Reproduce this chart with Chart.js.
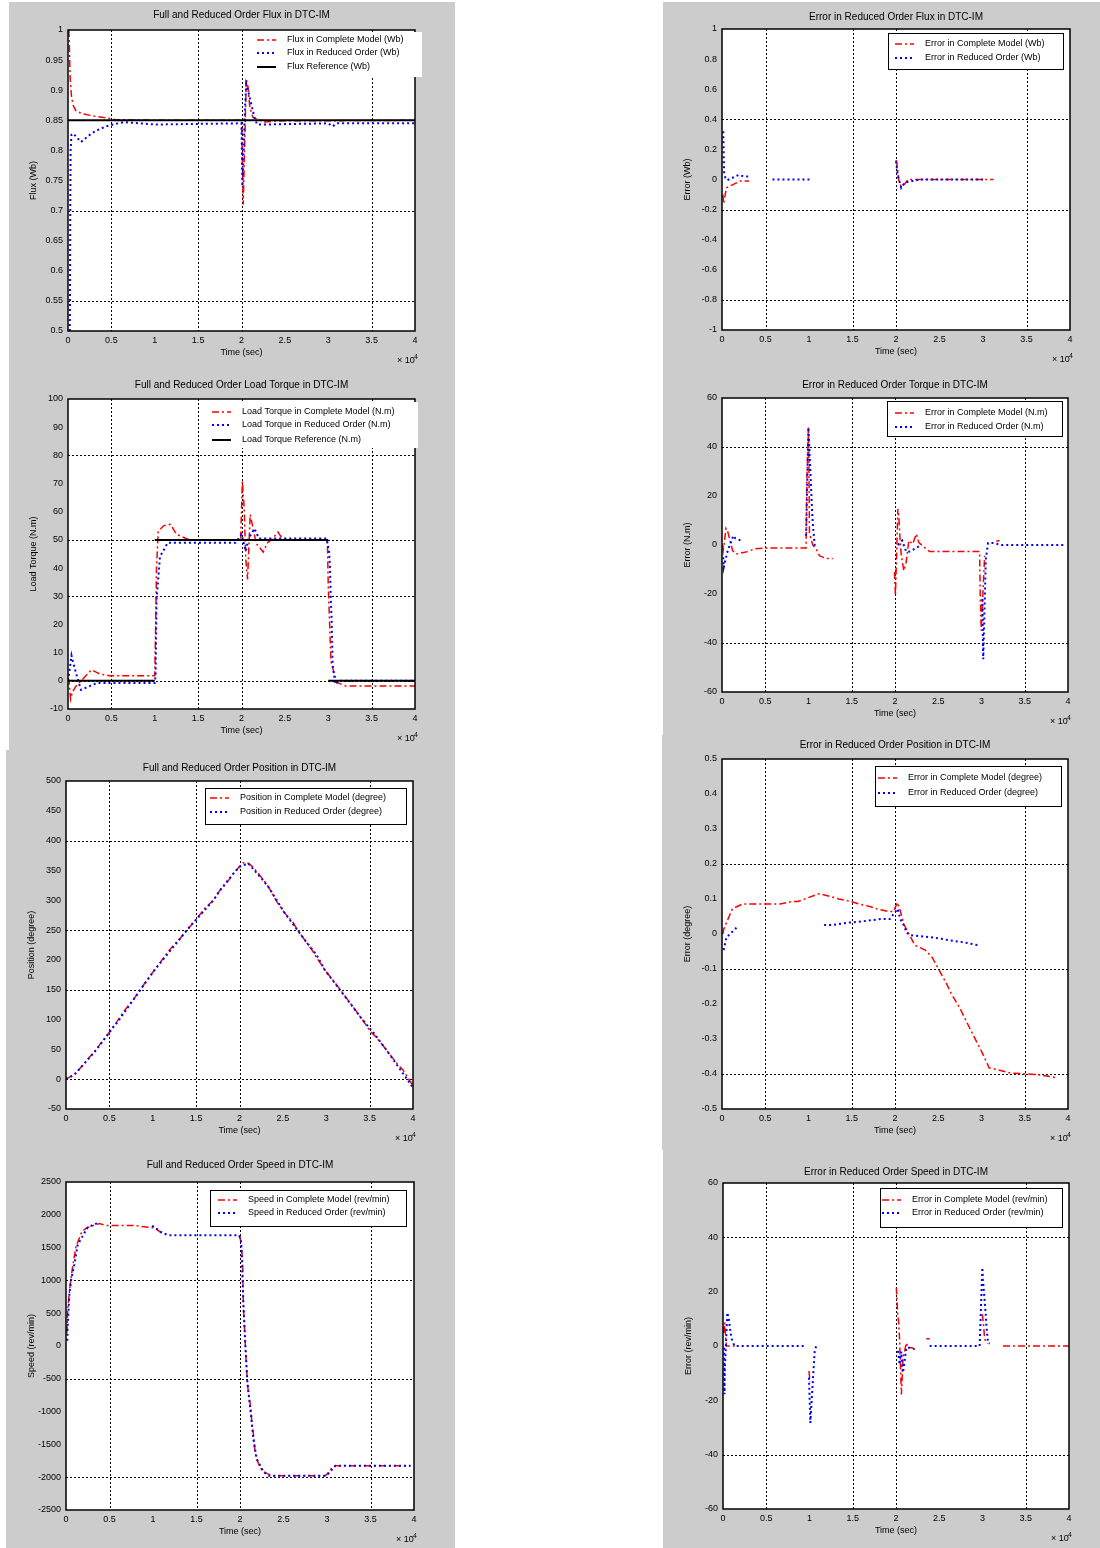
<!DOCTYPE html>
<html lang="en">
<head>
<meta charset="UTF-8">
<title>Full and Reduced Order Model Comparison</title>
<script src="https://cdn.jsdelivr.net/npm/chart.js"></script>
<style>
    body { margin: 0; background: #fff; width: 1100px; height: 1548px; position: relative; overflow: hidden; }
    .panel { position: absolute; background: #cccccc; }
    .panel canvas { display: block; }
</style>
</head>
<body>
<script>
// ---- data (time in samples, axis shown as x 10^4) ----
const gridX = [5000, 15000, 20000, 35000];

// flux
const fluxFullT = [100, 150, 250, 400, 600, 900, 1600, 3000, 4500, 5500, 10000, 20000, 20100, 20200, 20350, 20550, 20750, 20950, 21300, 22700, 24000, 40000];
const fluxFull = [1.0, 0.98, 0.92, 0.89, 0.875, 0.866, 0.861, 0.857, 0.854, 0.851, 0.85, 0.85, 0.78, 0.71, 0.8, 0.919, 0.905, 0.873, 0.855, 0.847, 0.849, 0.85];
const fluxRedT = [200, 230, 260, 300, 400, 600, 1500, 2700, 3300, 4400, 5200, 6400, 10000, 20000, 20100, 20250, 20400, 20550, 20800, 21500, 21800, 22700, 30000, 30500, 31000, 40000];
const fluxRed = [0.5, 0.545, 0.7, 0.8, 0.826, 0.828, 0.814, 0.828, 0.833, 0.84, 0.843, 0.847, 0.843, 0.845, 0.74, 0.8, 0.87, 0.91, 0.897, 0.854, 0.843, 0.843, 0.845, 0.84, 0.845, 0.845];
const fluxRefT = [0, 40000];
const fluxRef = [0.85, 0.85];

// flux error
const fluxErrFullT = [100, 200, 500, 2100, 3100, 10000, 20000, 20100, 20300, 20600, 21000, 21400, 31200];
const fluxErrFull = [-0.1, -0.16, -0.055, -0.01, -0.01, null, 0.13, 0.11, 0.0, -0.05, -0.03, 0, 0];
const fluxErrRedT = [150, 200, 250, 400, 600, 1900, 2600, 3100, 4000, 5800, 10200, 15000, 20000, 20200, 20600, 21000, 22700, 30000];
const fluxErrRed = [0.32, 0.15, 0.04, 0.01, -0.005, 0.03, 0.02, 0.02, null, 0, 0, null, 0.12, 0.03, -0.055, -0.02, 0, 0];

// load torque
const torqueFullT = [0, 100, 300, 500, 900, 2700, 3300, 3700, 4800, 10000, 10100, 10200, 10400, 11000, 11800, 12500, 14000, 19900, 20100, 20300, 20500, 20700, 21000, 21300, 21700, 22500, 23000, 23500, 24200, 24600, 25500, 29900, 30000, 30200, 30300, 30600, 31000, 32000, 40000];
const torqueFull = [1, 0.5, -6.5, -4, -2, 3.9, 3, 2.4, 1.8, 1.8, 18, 40, 53, 55, 55.5, 52, 50, 50, 70.7, 61.8, 43, 36, 59, 54.6, 48.7, 45.7, 49, 50.2, 52.8, 51, 50, 50, 33.8, 16.6, 7.1, 3.6, -0.6, -1.8, -1.8];
const torqueRedT = [100, 400, 600, 900, 1500, 3300, 10000, 10100, 10200, 10500, 10600, 11500, 19300, 20000, 20500, 20800, 21500, 22000, 24500, 29800, 30100, 30200, 30300, 30400, 30500, 30800, 31200, 40000];
const torqueRed = [1.8, 9, 6.5, 3, -3.2, -0.8, -0.8, 2, 28.5, 40, 44, 49, 49, 52, 46, 50.5, 54, 50.5, 50.5, 50.5, 45.7, 40.4, 28.5, 20.8, 5.9, -1.2, 0, 0];
const torqueRefT = [0, 10000, 10000, 10000, 30000, 30000, 30000, 40000];
const torqueRef = [0, 0, null, 50, 50, null, 0, 0];

// torque error
const tqErrFullT = [100, 150, 270, 460, 660, 930, 1230, 1620, 2970, 3740, 5280, 9720, 9800, 9990, 10050, 10110, 10490, 10880, 11260, 12030, 12810, 16000, 19940, 20050, 20330, 20450, 20600, 20720, 21020, 21290, 21600, 22060, 22450, 22760, 23990, 29780, 29850, 29970, 30100, 30360, 31000, 31700, 32100];
const tqErrFull = [0, -2, 1, 6.8, 5.5, 1.8, -2.3, -3.7, -2.7, -1.6, -1.2, -1.2, 25, 48, 32, 5, 0, -1.6, -4.4, -5.5, -5.5, null, -11, -20.7, 14.7, 11.3, 1, -4, -10.5, -7, 1.8, 0.4, 4.5, 1, -2.7, -2.7, -20, -35, -25, -4.4, null, 1.5, 1.8];
const tqErrRedT = [150, 200, 660, 1310, 1540, 2200, 5000, 9720, 9850, 9990, 10220, 10300, 10420, 10500, 10720, 15000, 20330, 20830, 21290, 21680, 23030, 26000, 30090, 30200, 30500, 30760, 31330, 32290, 39610];
const tqErrRed = [-5, -9.1, -2.3, 3.8, 2.7, 1.8, null, 3.8, 25, 48, 29.7, 22.9, 13.4, 8.6, -0.3, null, 0, 1.8, -2.7, -2.7, 0, null, -22, -46.6, -5.7, 0.8, 0.8, 0, 0];

// position
const posFullT = [0, 880, 1530, 2420, 3180, 3870, 4910, 5870, 6630, 7790, 9320, 10200, 12000, 13150, 13920, 14960, 16030, 16990, 17760, 18410, 19480, 19980, 20440, 21020, 21590, 22550, 23320, 24280, 25240, 26120, 26690, 27540, 28300, 29070, 29840, 30990, 31560, 32900, 34060, 35090, 35780, 36930, 38270, 38850, 39690, 40000];
const posFull = [0, 7.3, 16.8, 32, 44.7, 57.5, 77, 96.6, 113, 134, 166, 183, 218, 236, 250, 267, 287, 300, 317, 327, 348, 356, 363, 362, 355, 338, 323, 298, 278, 264, 250, 233, 218, 200, 183, 162, 151, 125, 102, 80, 70, 49, 24, 15.6, -4, -11];
const posRedT = [0, 1000, 3200, 3900, 5500, 5900, 8000, 10200, 14400, 14960, 17000, 17760, 19480, 20000, 21000, 22750, 23300, 25240, 27540, 28900, 29840, 34060, 35600, 36930, 39900];
const posRed = [0, 8, 44, 57, 88, 95, 138, 183, 258, 267, 300, 317, 348, 356, 362, 333, 323, 278, 233, 208, 183, 102, 75, 49, -12];

// position error
const angErrFullT = [100, 200, 1200, 2400, 5800, 6700, 8100, 8800, 11200, 12600, 13500, 14900, 15800, 17200, 17900, 19300, 19800, 20300, 20600, 21000, 22300, 23500, 24300, 25900, 26500, 27500, 29000, 30000, 30900, 31900, 33300, 36600, 38800];
const angErrFull = [0, 0.014, 0.072, 0.086, 0.086, 0.086, 0.093, 0.093, 0.115, 0.107, 0.1, 0.093, 0.086, 0.078, 0.072, 0.064, 0.064, 0.09, 0.067, 0.029, -0.032, -0.046, -0.067, -0.139, -0.17, -0.212, -0.287, -0.335, -0.383, -0.388, -0.397, -0.402, -0.411];
const angErrRedT = [200, 500, 1800, 7000, 11800, 12900, 14700, 15100, 18500, 19400, 20300, 20600, 21100, 21300, 21700, 24500, 26100, 28000, 29600];
const angErrRed = [-0.046, -0.01, 0.021, null, 0.026, 0.026, 0.033, 0.033, 0.043, 0.043, 0.072, 0.043, 0.021, 0.005, -0.003, -0.01, -0.017, -0.024, -0.032];

// speed
const speedFullT = [100, 190, 500, 770, 1150, 1850, 2380, 3080, 3850, 4600, 7900, 10190, 10960, 11400, 19900, 20000, 20150, 20300, 20380, 20500, 20580, 20650, 20850, 21000, 21150, 21300, 21350, 21540, 21650, 21730, 22000, 22300, 22700, 23270, 23850, 29800, 30000, 30500, 30960, 39600];
const speedFull = [200, 550, 960, 1217, 1520, 1750, 1800, 1835, 1866, 1835, 1835, 1800, 1725, null, 1690, 1650, 1547, 1278, 608, 330, 100, -100, -558, -760, -862, -1014, -1166, -1344, -1496, -1623, -1750, -1851, -1917, -1953, -1978, -1978, -1953, -1870, -1826, -1826];
const speedRedT = [150, 190, 400, 600, 960, 1350, 2500, 3850, 4300, 9900, 10190, 10770, 11730, 19800, 20080, 20150, 20380, 20580, 20850, 21080, 21350, 21540, 21920, 22700, 23270, 29800, 30000, 30960, 39600];
const speedRed = [80, 300, 811, 1014, 1242, 1547, 1810, 1886, null, 1830, 1815, 1745, 1689, 1689, 1648, 1547, 685, 100, -558, -837, -1166, -1420, -1724, -1917, -1978, -1978, -1970, -1826, -1826];

// speed error
const spErrFullT = [100, 190, 385, 580, 1540, 5000, 9940, 10050, 15000, 20040, 20200, 20310, 20420, 20620, 20700, 20810, 21000, 21200, 21390, 21970, 22800, 23500, 23900, 27000, 29980, 30130, 30250, 30640, 31500, 32370, 40000];
const spErrFull = [4.9, 8.6, 0, 0, 0, null, -9.2, -13, null, 21.5, 11.7, 8.6, 2, -17.8, -13, -4.3, -1.8, 1.2, -0.6, -0.6, null, 2.7, 2.7, null, 11.7, 7.4, 2.5, 0.9, null, 0, 0];
const spErrRedT = [150, 170, 200, 250, 500, 690, 960, 1160, 1350, 2700, 9630, 9800, 9940, 10100, 10250, 10400, 10600, 10870, 15000, 20230, 20420, 20620, 20710, 20810, 21200, 21580, 22160, 23000, 23890, 29670, 29980, 30050, 30370, 30450, 30640, 30830];
const spErrRed = [-0.6, -17.8, -10, -6, 12.3, 9.5, 3, 1.2, 0, 0, 0, null, -11.7, -28.3, -20, -12, -1.8, 0.9, null, -1.8, -6.8, -2, -8, -9.8, -0.6, -0.6, -1.2, null, 0, 0, 28.9, 24.6, 11.7, 7.4, 1.2, 0.9];

// ---- styles ----
const FONT = '"Liberation Sans", Arial, sans-serif';
const fullStyle = { borderColor: '#ff0000', borderWidth: 1.5, borderDash: [7, 3, 2, 3] };
const redStyle = { borderColor: '#0000ff', borderWidth: 2, borderDash: [2, 3] };
const refStyle = { borderColor: '#000000', borderWidth: 2, borderDash: [] };
const YW = 44, XH = 30;

function series(t, v, style, order) {
    return Object.assign({
        data: t.map((x, i) => ({ x: x, y: v[i] })),
        pointRadius: 0, fill: false, tension: 0, spanGaps: false, order: order
    }, style);
}

function fmt(v) {
    return String(Math.round(v * 1000) / 1000);
}

const panels = [
    {
        box: [9, 2, 446, 368], plot: [68, 30, 415, 331], titleY: 15,
        title: 'Full and Reduced Order Flux in DTC-IM', yLabel: 'Flux (Wb)',
        y: [0.5, 1, 0.05], gridY: [0.55, 0.7, 0.85],
        legend: { box: [250, 32, 422, 77], textX: 287, rows: [40, 53, 67], border: false,
            items: [['Flux in Complete Model (Wb)', fullStyle], ['Flux in Reduced Order (Wb)', redStyle], ['Flux Reference (Wb)', refStyle]] },
        sets: [series(fluxFullT, fluxFull, fullStyle, 2), series(fluxRedT, fluxRed, redStyle, 1), series(fluxRefT, fluxRef, refStyle, 0)]
    },
    {
        box: [663, 2, 437, 368], plot: [722, 29, 1070, 330], titleY: 17,
        title: 'Error in Reduced Order Flux in DTC-IM', yLabel: 'Error (Wb)',
        y: [-1, 1, 0.2], gridY: [0.4, -0.2, -0.8],
        legend: { box: [888, 33, 1064, 70], textX: 925, rows: [44, 58], border: true,
            items: [['Error in Complete Model (Wb)', fullStyle], ['Error in Reduced Order (Wb)', redStyle]] },
        sets: [series(fluxErrFullT, fluxErrFull, fullStyle, 2), series(fluxErrRedT, fluxErrRed, redStyle, 1)]
    },
    {
        box: [9, 370, 446, 380], plot: [68, 399, 415, 709], titleY: 385,
        title: 'Full and Reduced Order Load Torque in DTC-IM', yLabel: 'Load Torque (N.m)',
        y: [-10, 100, 10], gridY: [0, 30, 50, 80],
        legend: { box: [205, 402, 418, 448], textX: 242, rows: [412, 425, 440], border: false,
            items: [['Load Torque in Complete Model (N.m)', fullStyle], ['Load Torque in Reduced Order (N.m)', redStyle], ['Load Torque Reference (N.m)', refStyle]] },
        sets: [series(torqueFullT, torqueFull, fullStyle, 2), series(torqueRedT, torqueRed, redStyle, 1), series(torqueRefT, torqueRef, refStyle, 0)]
    },
    {
        box: [663, 370, 437, 365], plot: [722, 398, 1068, 692], titleY: 385,
        title: 'Error in Reduced Order Torque in DTC-IM', yLabel: 'Error (N.m)',
        y: [-60, 60, 20], gridY: [40, -40],
        legend: { box: [887, 401, 1063, 437], textX: 925, rows: [413, 427], border: true,
            items: [['Error in Complete Model (N.m)', fullStyle], ['Error in Reduced Order (N.m)', redStyle]] },
        sets: [series(tqErrFullT, tqErrFull, fullStyle, 2), series(tqErrRedT, tqErrRed, redStyle, 1)]
    },
    {
        box: [6, 750, 449, 400], plot: [66, 781, 413, 1109], titleY: 768,
        title: 'Full and Reduced Order Position in DTC-IM', yLabel: 'Position (degree)',
        y: [-50, 500, 50], gridY: [0, 150, 250, 400],
        legend: { box: [205, 788, 407, 825], textX: 240, rows: [798, 812], border: true,
            items: [['Position in Complete Model (degree)', fullStyle], ['Position in Reduced Order (degree)', redStyle]] },
        sets: [series(posFullT, posFull, fullStyle, 2), series(posRedT, posRed, redStyle, 1)]
    },
    {
        box: [662, 735, 438, 415], plot: [722, 759, 1068, 1109], titleY: 745,
        title: 'Error in Reduced Order Position in DTC-IM', yLabel: 'Error (degree)',
        y: [-0.5, 0.5, 0.1], gridY: [0.2, -0.1, -0.4],
        legend: { box: [875, 766, 1062, 807], textX: 908, rows: [778, 793], border: true,
            items: [['Error in Complete Model (degree)', fullStyle], ['Error in Reduced Order (degree)', redStyle]] },
        sets: [series(angErrFullT, angErrFull, fullStyle, 2), series(angErrRedT, angErrRed, redStyle, 1)]
    },
    {
        box: [6, 1150, 449, 398], plot: [66, 1182, 414, 1510], titleY: 1165,
        title: 'Full and Reduced Order Speed in DTC-IM', yLabel: 'Speed (rev/min)',
        y: [-2500, 2500, 500], gridY: [1000, -500, -2000],
        legend: { box: [210, 1190, 407, 1227], textX: 248, rows: [1200, 1213], border: true,
            items: [['Speed in Complete Model (rev/min)', fullStyle], ['Speed in Reduced Order (rev/min)', redStyle]] },
        sets: [series(speedFullT, speedFull, fullStyle, 2), series(speedRedT, speedRed, redStyle, 1)]
    },
    {
        box: [663, 1150, 437, 398], plot: [723, 1183, 1069, 1509], titleY: 1172,
        title: 'Error in Reduced Order Speed in DTC-IM', yLabel: 'Error (rev/min)',
        y: [-60, 60, 20], gridY: [40, -40],
        legend: { box: [880, 1188, 1063, 1228], textX: 912, rows: [1200, 1213], border: true,
            items: [['Error in Complete Model (rev/min)', fullStyle], ['Error in Reduced Order (rev/min)', redStyle]] },
        sets: [series(spErrFullT, spErrFull, fullStyle, 2), series(spErrRedT, spErrRed, redStyle, 1)]
    }
];

// draws the matlab style frame, dotted grid, legend and title
function frame(p) {
    const ox = p.box[0], oy = p.box[1];
    return {
        id: 'frame',
        beforeDatasetsDraw(chart) {
            const { ctx, chartArea: a, scales: { x, y } } = chart;
            ctx.save();
            ctx.fillStyle = '#fff';
            ctx.fillRect(a.left, a.top, a.width, a.height);
            ctx.strokeStyle = '#000';
            ctx.lineWidth = 1;
            ctx.setLineDash([2, 2]);
            ctx.beginPath();
            gridX.forEach(v => {
                const px = Math.round(x.getPixelForValue(v)) + 0.5;
                ctx.moveTo(px, a.top); ctx.lineTo(px, a.bottom);
            });
            p.gridY.forEach(v => {
                const py = Math.round(y.getPixelForValue(v)) + 0.5;
                ctx.moveTo(a.left, py); ctx.lineTo(a.right, py);
            });
            ctx.stroke();
            ctx.restore();
        },
        afterDatasetsDraw(chart) {
            const { ctx, chartArea: a } = chart;
            ctx.save();
            ctx.setLineDash([]);
            ctx.strokeStyle = '#000';
            ctx.lineWidth = 1.5;
            ctx.strokeRect(a.left, a.top, a.width, a.height);

            const L = p.legend;
            const [lx1, ly1, lx2, ly2] = L.box;
            ctx.fillStyle = '#fff';
            ctx.fillRect(lx1 - ox, ly1 - oy, lx2 - lx1, ly2 - ly1);
            if (L.border) {
                ctx.lineWidth = 1;
                ctx.strokeRect(lx1 - ox + 0.5, ly1 - oy + 0.5, lx2 - lx1 - 1, ly2 - ly1 - 1);
            }
            ctx.font = '9px ' + FONT;
            ctx.textBaseline = 'middle';
            ctx.textAlign = 'left';
            L.items.forEach(([label, st], i) => {
                const ry = L.rows[i] - oy, tx = L.textX - ox;
                ctx.strokeStyle = st.borderColor;
                ctx.lineWidth = st.borderWidth;
                ctx.setLineDash(st.borderDash);
                ctx.beginPath();
                ctx.moveTo(tx - 30, ry); ctx.lineTo(tx - 11, ry);
                ctx.stroke();
                ctx.fillStyle = '#000';
                ctx.fillText(label, tx, ry);
            });

            ctx.font = '10px ' + FONT;
            ctx.textAlign = 'center';
            ctx.fillText(p.title, (a.left + a.right) / 2, p.titleY - oy);

            ctx.font = '9px ' + FONT;
            ctx.textAlign = 'left';
            ctx.fillText('\u00d7 10', a.right - 18, a.bottom + 30);
            ctx.font = '7px ' + FONT;
            ctx.fillText('4', a.right - 1, a.bottom + 26);
            ctx.restore();
        }
    };
}

Chart.defaults.font.family = FONT;
Chart.defaults.font.size = 9;
Chart.defaults.color = '#000';

panels.forEach(p => {
    const [bx, by, bw, bh] = p.box;
    const [pl, pt, pr, pb] = p.plot;
    const div = document.createElement('div');
    div.className = 'panel';
    div.style.cssText = 'left:' + bx + 'px;top:' + by + 'px;width:' + bw + 'px;height:' + bh + 'px';
    const cv = document.createElement('canvas');
    cv.width = bw;
    cv.height = bh;
    div.appendChild(cv);
    document.body.appendChild(div);

    new Chart(cv, {
        type: 'line',
        data: { datasets: p.sets },
        options: {
            responsive: false,
            animation: false,
            events: [],
            layout: { padding: { left: pl - bx - YW, right: bx + bw - pr, top: pt - by, bottom: by + bh - pb - XH } },
            plugins: { legend: { display: false }, tooltip: { enabled: false }, title: { display: false } },
            scales: {
                x: {
                    type: 'linear', min: 0, max: 40000,
                    afterFit: s => { s.height = XH; },
                    grid: { display: false, drawTicks: false },
                    border: { display: false },
                    ticks: { stepSize: 5000, autoSkip: false, maxRotation: 0, padding: 4, callback: v => fmt(v / 10000) },
                    title: { display: true, text: 'Time (sec)', padding: { top: 0, bottom: 3 } }
                },
                y: {
                    type: 'linear', min: p.y[0], max: p.y[1],
                    afterFit: s => { s.width = YW; },
                    grid: { display: false, drawTicks: false },
                    border: { display: false },
                    ticks: { stepSize: p.y[2], autoSkip: false, padding: 5, callback: v => fmt(v) },
                    title: { display: true, text: p.yLabel, padding: { top: 4, bottom: 0 } }
                }
            }
        },
        plugins: [frame(p)]
    });
});
</script>
</body>
</html>
